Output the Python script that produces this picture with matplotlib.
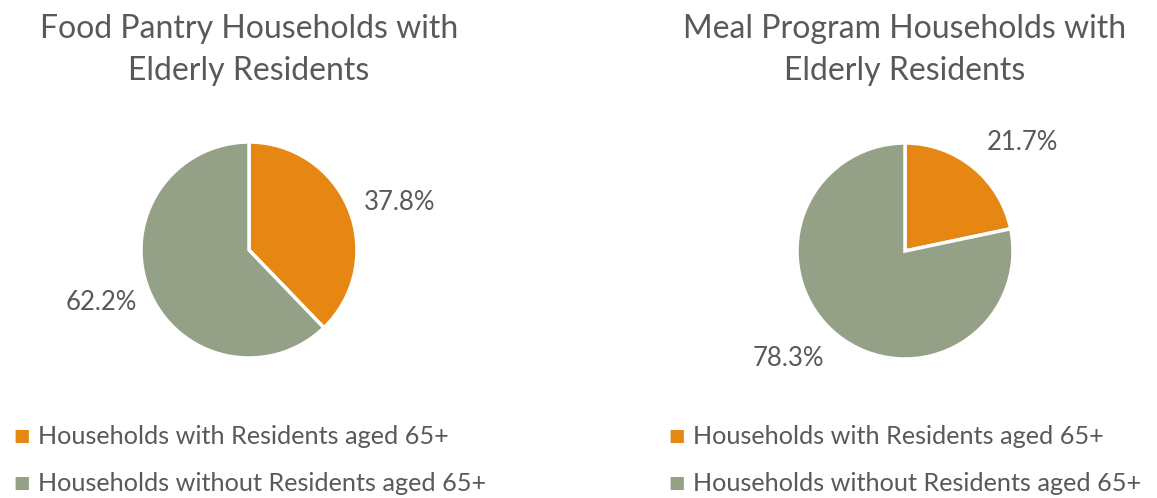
import matplotlib.pyplot as plt

plt.rcParams['font.family'] = ['Lato', 'DejaVu Sans']

titles = ["Food Pantry Households with\nElderly Residents",
          "Meal Program Households with\nElderly Residents"]
categories = ["Households with Residents aged 65+",
              "Households without Residents aged 65+"]
pantry = [37.8, 62.2]
meal = [21.7, 78.3]
colors = ["#E68613", "#94A187"]
grey = "#595959"

W, H = 1157, 498
fig = plt.figure(figsize=(W / 100, H / 100), dpi=100)


def px_axes(cx, cy, r):
    return fig.add_axes([(cx - r) / W, 1 - (cy + r) / H, 2 * r / W, 2 * r / H])


# centre, radius, label spots (pixels), legend x
panels = [
    (pantry, 249, 250, 108, [(400, 202), (101, 302)], 22),
    (meal, 905, 251, 108, [(1022, 142), (788, 359)], 677),
]

for i, (vals, cx, cy, r, spots, lx) in enumerate(panels):
    ax = px_axes(cx, cy, r)
    wedges, _ = ax.pie(vals, colors=colors, startangle=90, counterclock=False,
                       radius=1, wedgeprops=dict(edgecolor="white", linewidth=2.5))
    ax.set_xlim(-1, 1)
    ax.set_ylim(-1, 1)
    ax.set_aspect("equal")
    for v, (sx, sy) in zip(vals, spots):
        fig.text(sx / W, 1 - sy / H, f"{v:.1f}%", ha="center", va="center",
                 fontsize=18.5, color=grey)
    fig.text(cx / W, 1 - 50 / H, titles[i], ha="center", va="center",
             fontsize=23, color=grey, linespacing=1.52)
    for j, cat in enumerate(categories):
        y = 436 + 47 * j
        fig.text(lx / W, 1 - y / H, "\u25A0", ha="center", va="center",
                 fontsize=12.5, color=colors[j])
        fig.text((lx + 16) / W, 1 - y / H, cat, ha="left", va="center",
                 fontsize=18.2, color=grey)

fig.savefig("out.png", dpi=100)
